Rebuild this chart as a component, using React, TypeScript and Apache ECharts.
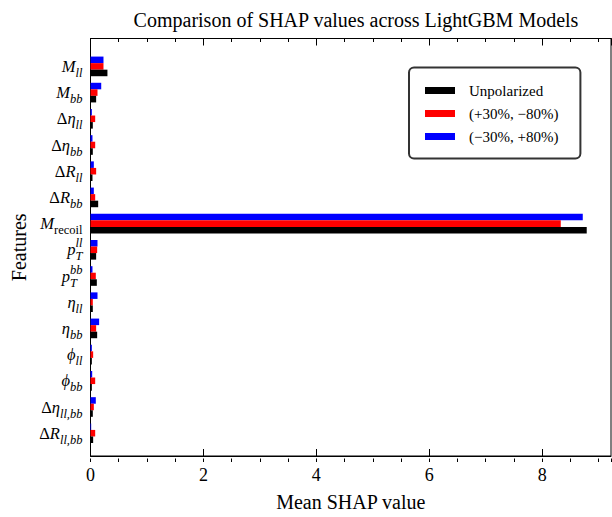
import React, { useEffect, useRef } from "react";
import * as echarts from "echarts";

const features = ["M_ll", "M_bb", "Δη_ll", "Δη_bb", "ΔR_ll", "ΔR_bb", "M_recoil", "p_T^ll", "p_T^bb", "η_ll", "η_bb", "ϕ_ll", "ϕ_bb", "Δη_ll,bb", "ΔR_ll,bb"];
const featureLabels = [
  "{it|M}{sub|ll}", "{it|M}{sub|bb}", "{rm|Δ}{it|η}{sub|ll}", "{rm|Δ}{it|η}{sub|bb}",
  "{rm|Δ}{it|R}{sub|ll}", "{rm|Δ}{it|R}{sub|bb}", "{it|M}{subrm|recoil}",
  "{it|p}{sub|T}{sup|ll}", "{it|p}{sub|T}{sup|bb}", "{it|η}{sub|ll}", "{it|η}{sub|bb}",
  "{it|ϕ}{sub|ll}", "{it|ϕ}{sub|bb}", "{rm|Δ}{it|η}{sub|ll,bb}", "{rm|Δ}{it|R}{sub|ll,bb}",
];
const seriesNames = ["Unpolarized", "(+30%, −80%)", "(−30%, +80%)"];
const unpolarized = [0.30, 0.10, 0.041, 0.041, 0.035, 0.136, 8.79, 0.10, 0.112, 0.041, 0.118, 0.024, 0.024, 0.041, 0.047];
const plus30minus80 = [0.23, 0.124, 0.083, 0.083, 0.10, 0.083, 8.33, 0.118, 0.094, 0.041, 0.10, 0.047, 0.083, 0.059, 0.083];
const minus30plus80 = [0.23, 0.19, 0.024, 0.035, 0.059, 0.059, 8.72, 0.124, 0.035, 0.124, 0.153, 0.024, 0.03, 0.094, 0.012];
const xMax = 9.22;
const titleText = "Comparison of SHAP values across LightGBM Models";
const xName = "Mean SHAP value";
const yName = "Features";

const FONT = "'Liberation Serif', 'DejaVu Serif', serif";

export default function App() {
  const ref = useRef<HTMLDivElement>(null);
  useEffect(() => {
    document.body.style.margin = "0";
    const chart = echarts.init(ref.current!, null, { renderer: "svg" });
    const frame = { left: 90.5, right: 1, top: 38.5, bottom: 55 };
    const noSplit = { show: false };
    const option: any = {
      animation: false,
      backgroundColor: "#fff",
      title: {
        text: titleText,
        left: 351,
        top: 5,
        textAlign: "center",
        textStyle: { fontSize: 20, fontWeight: "normal", fontFamily: FONT, color: "#000" },
      },
      legend: {
        data: [seriesNames[0], seriesNames[1], seriesNames[2]],
        orient: "vertical",
        left: 409,
        top: 67.5,
        icon: "rect",
        itemWidth: 30,
        itemHeight: 7,
        itemGap: 7,
        padding: [15, 22, 14, 16],
        borderColor: "#333",
        borderWidth: 2,
        borderRadius: 5,
        backgroundColor: "#fff",
        textStyle: { fontSize: 15, fontFamily: FONT, color: "#000", lineHeight: 16, padding: [0, 0, 0, 9] },
      },
      grid: [
        { ...frame, show: true, borderColor: "#000", borderWidth: 1, backgroundColor: "transparent" },
        { left: 90.5, right: 1, top: 53.3, height: 393, show: false },
        { ...frame, show: false },
      ],
      xAxis: [
        {
          gridIndex: 0, type: "value", position: "bottom", min: 0, max: xMax, interval: 2,
          axisLine: { show: true, lineStyle: { color: "#000", width: 1 } },
          axisTick: { show: true, inside: true, length: 7, lineStyle: { color: "#000" } },
          axisLabel: { fontSize: 18, fontFamily: FONT, color: "#000", margin: 10, showMaxLabel: false },
          splitLine: noSplit,
          name: xName, nameLocation: "middle", nameGap: 36,
          nameTextStyle: { fontSize: 20, fontFamily: FONT, color: "#000" },
        },
        {
          gridIndex: 0, type: "value", position: "top", min: 0, max: xMax, interval: 2,
          axisLine: { show: true, lineStyle: { color: "#000", width: 1 } },
          axisTick: { show: true, inside: true, length: 7, lineStyle: { color: "#000" } },
          axisLabel: { show: false }, splitLine: noSplit,
        },
        {
          gridIndex: 2, type: "value", position: "bottom", min: 0, max: xMax, interval: 0.5,
          axisLine: { show: false },
          axisTick: { show: true, inside: true, length: 3.5, lineStyle: { color: "#000" } },
          axisLabel: { show: false }, splitLine: noSplit,
        },
        {
          gridIndex: 2, type: "value", position: "top", min: 0, max: xMax, interval: 0.5,
          axisLine: { show: false },
          axisTick: { show: true, inside: true, length: 3.5, lineStyle: { color: "#000" } },
          axisLabel: { show: false }, splitLine: noSplit,
        },
        { gridIndex: 1, type: "value", min: 0, max: xMax, show: false, splitLine: noSplit },
      ],
      yAxis: [
        {
          gridIndex: 0, type: "value", min: 0, max: 1,
          axisLine: { show: false }, axisTick: { show: false }, axisLabel: { show: false }, splitLine: noSplit,
          name: yName, nameLocation: "middle", nameRotate: 90, nameGap: 62,
          nameTextStyle: { fontSize: 20, fontFamily: FONT, color: "#000" },
        },
        { gridIndex: 2, type: "value", show: false, splitLine: noSplit },
        {
          gridIndex: 1, type: "category", data: features, inverse: true,
          axisLine: { show: false }, axisTick: { show: false }, splitLine: noSplit,
          axisLabel: {
            margin: 8,
            formatter: (_v: string, i: number) => featureLabels[i],
            rich: {
              it: { fontFamily: FONT, fontStyle: "italic", fontSize: 16.5, lineHeight: 26, color: "#000" },
              rm: { fontFamily: FONT, fontSize: 16.5, lineHeight: 26, color: "#000" },
              sub: { fontFamily: FONT, fontStyle: "italic", fontSize: 12.5, lineHeight: 10, verticalAlign: "bottom", color: "#000" },
              subrm: { fontFamily: FONT, fontSize: 12.5, lineHeight: 10, verticalAlign: "bottom", color: "#000" },
              sup: { fontFamily: FONT, fontStyle: "italic", fontSize: 12.5, lineHeight: 12, verticalAlign: "top", padding: [0, 0, 0, -7], color: "#000" },
            },
          },
        },
      ],
      series: [
        { name: seriesNames[2], type: "bar", xAxisIndex: 4, yAxisIndex: 2, data: minus30plus80, barWidth: 6.55, barGap: "0%", itemStyle: { color: "#0000ff" } },
        { name: seriesNames[1], type: "bar", xAxisIndex: 4, yAxisIndex: 2, data: plus30minus80, barWidth: 6.55, barGap: "0%", itemStyle: { color: "#ff0000" } },
        { name: seriesNames[0], type: "bar", xAxisIndex: 4, yAxisIndex: 2, data: unpolarized, barWidth: 6.55, barGap: "0%", itemStyle: { color: "#000000" } },
      ],
    };
    chart.setOption(option);
    return () => chart.dispose();
  }, []);
  return <div ref={ref} style={{ width: 612, height: 517 }} />;
}
